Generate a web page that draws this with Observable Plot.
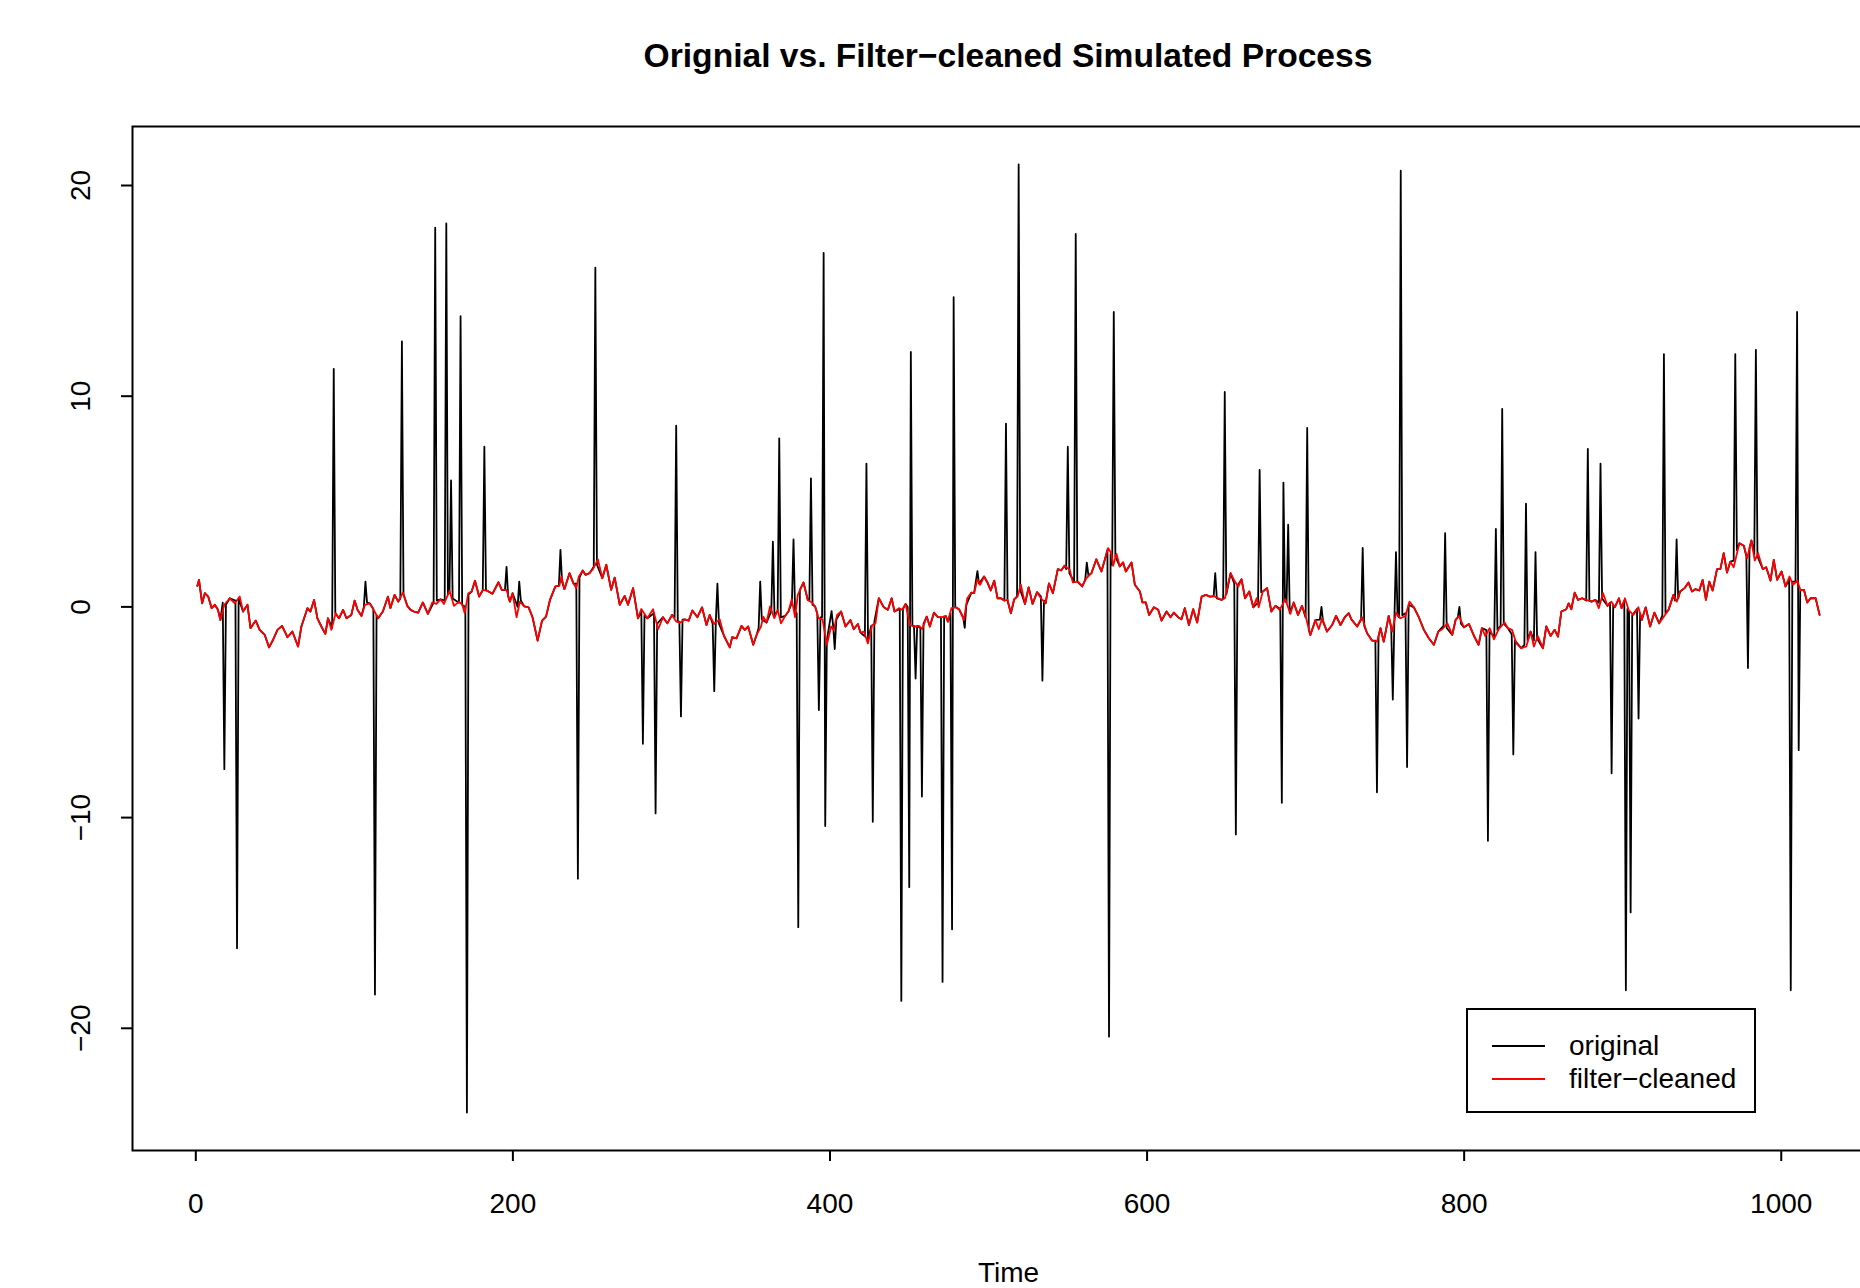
<!DOCTYPE html>
<html>
<head>
<meta charset="utf-8">
<script src="https://cdn.jsdelivr.net/npm/d3@7"></script>
<script src="https://cdn.jsdelivr.net/npm/@observablehq/plot@0.6"></script>
<style>
  html, body { margin: 0; padding: 0; background: #fff; overflow: hidden; }
  #wrap { position: relative; width: 1860px; height: 1288px; overflow: hidden; font-family: "Liberation Sans", Arial, Helvetica, sans-serif; }
  #title { position: absolute; left: 0; top: 0; width: 2016px; height: 90px; text-align: center; font-weight: bold; font-size: 33.6px; line-height: 112px; color: #000; }
  #chart { position: absolute; left: 0; top: 90px; width: 1900px; }
  #chart svg { max-width: none !important; }
  #legend { position: absolute; left: 1466px; top: 1008px; width: 286px; height: 101px; border: 2px solid #000; background: #fff; }
  .row { position: absolute; left: 0; height: 30px; width: 286px; }
  .row .ln { position: absolute; left: 24px; top: 14px; width: 53px; height: 0; border-top: 2px solid; }
  .row .tx { position: absolute; left: 101px; top: 0; font-size: 28px; line-height: 30px; color: #000; white-space: nowrap; }
</style>
</head>
<body>
<div id="wrap">
  <div id="title">Orignial vs. Filter−cleaned Simulated Process</div>
  <div id="chart"></div>
  <div id="legend">
    <div class="row" style="top:21px"><div class="ln" style="border-color:#000"></div><div class="tx">original</div></div>
    <div class="row" style="top:54px"><div class="ln" style="border-color:#ff0000"></div><div class="tx">filter−cleaned</div></div>
  </div>
</div>
<script>
// Filter-cleaned series (time, value)
const cleaned = [
[1,1.0],[2,1.28],[4,0.17],[5.7,0.65],[7.8,0.49],[10,-0.06],[12,0.1],[14,-0.14],[15.5,-0.62],[18,0.1],[21.4,0.41],[24.6,0.17],[27.7,0.49],[29.8,-0.22],[32.6,0.1],[34.5,-1.01],[37.8,-0.65],[40.3,-1.09],[43.5,-1.33],[46.2,-1.92],[48.7,-1.57],[51.5,-1.09],[54.4,-0.9],[57.8,-1.44],[60.9,-1.17],[64.5,-1.88],[66.6,-0.93],[70.4,-0.06],[72.3,-0.22],[74.6,0.33],[76.7,-0.54],[79.2,-0.93],[81.7,-1.28],[83.4,-0.54],[85.5,-1.09],[88.2,-0.3],[90.3,-0.54],[92.9,-0.14],[95,-0.54],[98.1,-0.38],[100.2,0.3],[102,-0.14],[104.5,-0.43],[106.7,0.1],[109.7,0.17],[112.2,-0.14],[115,-0.54],[118,-0.22],[121.2,0.49],[122.7,-0.06],[125.4,0.57],
[127.7,0.25],[130.6,0.68],[133.4,0.05],[135.5,-0.14],[137.6,-0.22],[140.3,-0.27],[143.2,0.21],[146.4,-0.33],[149.1,0.21],[151.7,0.14],[154.4,0.36],[156.5,0.14],[160.1,0.76],[162.8,0.05],[166,0.25],[168.1,0.1],[169.6,-0.3],[171.9,0.65],[174,0.73],[176.1,1.24],[178.7,0.49],[181.2,0.81],[183.9,0.76],[187.1,0.62],[190.9,1.17],[193,0.81],[196,0.81],[198.1,0.25],[199.8,0.65],[202.3,-0.49],[204.4,0.25],[207.2,0.02],[209.9,-0.02],[212.4,-0.49],[215.6,-1.6],[218.4,-0.65],[220.9,-0.46],[223.4,0.33],[226.8,0.97],[229.3,1.0],[230.6,1.44],[232.5,0.84],[235.7,1.6],[238.2,1.12],[239.9,0.89],[241.6,1.44],[244.1,1.73],[245.8,1.52],[248.3,1.6],[250.5,1.79],[253.6,2.26],[256.4,1.36],[258.9,2.0],[262,0.81],
[264.2,1.39],[267.4,0.1],[270.5,0.52],[272.6,0.1],[275.8,0.89],[278.9,-0.54],[281,-0.1],[284.8,-0.54],[288.4,-0.11],[291.6,-1.06],[294.7,-0.49],[297.4,-0.78],[300.4,-0.38],[303.1,-0.7],[305.8,-0.74],[308.4,-0.59],[310.9,-0.65],[313.2,-0.17],[316.4,-0.49],[319.3,-0.02],[322.1,-0.86],[324.1,-0.38],[326.9,-0.81],[330.4,-0.59],[333.2,-1.38],[336.8,-1.92],[338.3,-1.44],[341,-1.49],[344.2,-0.9],[346.3,-1.09],[348.4,-0.93],[351.6,-1.8],[353.7,-1.33],[356.5,-0.93],[357.9,-0.46],[360,-0.74],[362.2,0.02],[364.9,-0.54],[367,-0.14],[369.1,-0.78],[371.7,-0.43],[373.8,-0.22],[375.9,0.36],[378,-0.49],[379.7,0.57],[383.3,1.16],[386,0.33],[388.6,0.21],[390.6,0.02],[392.8,-0.54],[395.3,-0.59],[398,-1.8],
[400.7,-0.93],[402.4,-1.09],[404.5,-0.38],[407,-0.22],[409.8,-0.93],[412.9,-0.62],[415,-1.06],[417.6,-0.81],[419.2,-1.22],[421.4,-1.17],[423.9,-1.73],[426.6,-0.86],[428.7,-0.78],[430.8,0.41],[434,-0.02],[436.5,-0.14],[438.9,0.41],[440.7,-0.22],[443.5,-0.06],[445.6,-0.14],[447.7,0.14],[450.4,-0.86],[453.4,-0.93],[456.1,-0.9],[458.2,-1.06],[461,-0.46],[463,-0.93],[465.6,-0.27],[468.1,-0.49],[470.8,-0.49],[473,-0.43],[474.4,-0.7],[476.6,-0.06],[479.3,-0.02],[481.4,-0.11],[484.5,-0.62],[486.6,0.41],[489.2,0.68],[490.9,0.65],[493,1.31],[494.7,1.05],[497.2,1.44],[499.3,1.16],[501.4,0.78],[503.6,1.25],[505.7,0.41],[507.8,0.41],[509.9,0.3],[512,0.33],[514.1,-0.3],[516.2,0.36],[518.3,0.49],[520.4,1.05],[523,0.14],[525.3,0.93],[527.8,0.14],[530.6,0.7],[533.1,0.41],
[536,0.17],[538.1,1.12],[540.6,0.65],[543.7,1.79],[545.8,1.73],[547.9,1.95],[551.2,1.76],[553.2,1.16],[556.4,1.2],[559.1,0.97],[561.7,1.36],[564.9,1.6],[568,2.26],[571.2,1.68],[573.3,2.23],[575.4,2.79],[577.5,2.55],[578.6,1.95],[580.7,2.52],[582.8,1.92],[584.9,2.11],[586.6,1.68],[590.2,2.11],[592.3,1.05],[595.5,0.73],[597.1,0.21],[599.2,0.21],[601.3,-0.38],[604.3,-0.02],[607,-0.14],[609.1,-0.65],[612.3,-0.22],[614.8,-0.49],[616.9,-0.27],[619.6,-0.49],[621.7,-0.59],[623.8,-0.06],[626.4,-0.86],[629.1,-0.11],[631.6,-0.74],[634.4,0.49],[637.1,0.57],[639.6,0.49],[641.8,0.52],[644.9,0.41],[647,0.33],[649.1,0.41],[652.7,1.6],[655.4,1.2],[657.6,0.97],[659.6,1.31],[661.8,0.41],[664.5,0.73],[667,-0.02],[669.1,0.41],
[670.4,-0.02],[673,0.73],[675.7,0.89],[678.4,-0.22],[681,0.05],[683.6,-0.14],[687.2,0.36],[690.4,-0.33],[692.5,0.21],[695.2,-0.38],[697.7,0.05],[699.8,-0.38],[703,-1.33],[706.2,-0.62],[708.3,-1.06],[710.4,-0.54],[713.5,-1.17],[716.7,-0.86],[719.2,-0.43],[722,-0.86],[724.7,-0.49],[727.2,-0.3],[728.9,-0.59],[732.5,-0.93],[735.6,-0.49],[738.8,-1.25],[741.9,-1.6],[745.1,-1.65],[747.2,-1.01],[749.3,-1.65],[752.4,-0.43],[754.6,-1.17],[757.1,-0.27],[759.8,-0.54],[763,-0.43],[765.5,0.25],[768.3,-0.02],[771.4,-0.49],[774.6,-1.09],[777.7,-1.49],[780.9,-1.8],[783.7,-1.17],[786.2,-1.06],[789.4,-0.78],[792.5,-1.33],[794.6,-0.62],[796.7,-0.43],[799.9,-0.97],[803,-0.81],[806.2,-1.38],
[809.1,-1.8],[811.2,-1.01],[813.3,-1.38],[816.1,-1.01],[818.8,-1.54],[821.8,-1.06],[825.5,-0.74],[827.6,-1.01],[830.2,-1.09],[832.9,-1.73],[836,-1.96],[839.2,-1.88],[841.9,-1.17],[844,-1.88],[846.5,-1.38],[849.7,-1.96],[851.8,-0.93],[854.5,-1.38],[857.1,-1.09],[859.2,-1.41],[861.3,-0.22],[864.4,-0.11],[865.9,0.17],[867.6,-0.11],[869.7,0.68],[871.8,0.33],[874.4,0.41],[877.1,0.33],[880.3,0.25],[882.8,0.33],[884.9,-0.06],[887.6,0.65],[890.4,0.05],[892.9,0.25],[895,-0.02],[897.6,0.41],[899.3,-0.06],[901.4,0.41],[903.9,-0.17],[906.7,-0.38],[909.9,-0.02],[912,-0.62],[914.5,-0.02],[917.3,-0.93],[920,-0.27],[923,-0.78],[925.7,-0.49],[928.9,-0.14],[932,0.57],[934.1,0.25],[936.2,0.73],[939,0.89],[941.5,1.16],
[943.7,0.73],[945.8,0.84],[948.3,0.78],[950.4,1.28],[952.5,0.33],[954.6,1.2],[956.7,0.78],[959.5,1.79],[961.6,1.79],[963.7,2.55],[965.8,1.63],[967.9,2.15],[970,1.88],[972.1,2.55],[973.6,3.02],[976.4,2.9],[978.5,2.31],[981.2,3.15],[983.3,2.2],[985.4,2.55],[988.4,1.79],[990.5,1.88],[993.2,1.25],[995.3,2.23],[997.4,1.28],[1000.2,1.68],[1002.7,0.97],[1005.2,1.44],[1007.4,1.05],[1010.1,1.25],[1012.2,0.78],[1014.3,0.81],[1016.4,0.21],[1018.5,0.41],[1021.7,0.41],[1024.2,-0.38]
];

// Original series: outlier spikes with their neighbouring points (time, value)
const originalSpikes = [
[17,0.2],[18,-7.7],[19,0.1],
[25,0.3],[26,-16.2],[27,0.4],
[86,-1.0],[87,11.3],[88,-0.3],
[106,0.0],[107,1.2],[108,0.2],
[112,-0.1],[113,-18.4],[114,-0.4],
[129,0.4],[130,12.6],[131,0.6],
[150,0.2],[151,18.0],[152,0.3],
[157,0.3],[158,18.2],[159,0.6],
[160,0.7],[161,6.0],[162,0.4],
[166,0.2],[167,13.8],[168,0.1],
[170,0.0],[171,-24.0],[172,0.6],
[181,0.8],[182,7.6],[183,0.8],
[195,0.8],[196,1.9],[197,0.5],
[203,0.0],[204,1.2],[205,0.3],
[229,1.0],[230,2.7],[231,1.2],
[240,1.1],[241,-12.9],[242,1.4],
[251,1.9],[252,16.1],[253,2.0],
[281,-0.2],[282,-6.5],[283,-0.4],
[289,-0.3],[290,-9.8],[291,-0.8],
[302,-0.5],[303,8.6],[304,-0.7],
[305,-0.7],[306,-5.2],[307,-0.6],
[326,-0.8],[327,-4.0],[328,-0.7],[329,1.1],[330,-0.8],
[355,-1.0],[356,1.2],[357,-0.6],
[363,-0.2],[364,3.1],[365,-0.4],
[367,-0.2],[368,8.0],[369,-0.5],
[376,0.2],[377,3.2],[378,-0.2],
[379,-0.3],[380,-15.2],[381,0.8],
[387,0.3],[388,6.1],[389,0.1],
[392,-0.3],[393,-4.9],[394,-0.5],
[395,-0.5],[396,16.8],[397,-10.4],[398,-1.6],
[401,-0.2],[402,-0.9],[403,-2.0],[404,-0.6],
[422,-1.4],[423,6.8],[424,-1.6],
[426,-0.9],[427,-10.2],[428,-0.7],
[444,-0.1],[445,-18.7],[446,-0.1],
[449,0.0],[450,-13.3],[451,12.1],[452,-0.9],
[453,-0.9],[454,-3.4],[455,-0.9],
[457,-1.0],[458,-9.0],[459,-0.8],
[470,-0.5],[471,-17.8],[472,-0.5],
[476,-0.3],[477,-15.3],[478,14.7],[479,0.0],
[484,-0.5],[485,-1.0],[486,0.1],
[492,1.2],[493,1.7],[494,1.1],
[510,0.3],[511,8.7],[512,0.3],
[518,0.5],[519,21.0],[520,0.8],
[533,0.5],[534,-3.5],[535,0.3],
[549,1.8],[550,7.6],[551,1.6],
[554,1.2],[555,17.7],[556,1.2],
[561,1.3],[562,2.1],[563,1.5],
[575,2.7],[576,-20.4],[577,2.5],[578,2.0],[579,14.0],[580,2.4],
[642,0.5],[643,1.6],[644,0.4],
[648,0.4],[649,10.2],[650,0.6],
[655,1.1],[656,-10.8],[657,1.0],
[670,0.2],[671,6.5],[672,0.7],
[684,-0.1],[685,-9.3],[686,5.9],[687,0.3],
[688,0.2],[689,3.9],[690,-0.3],
[700,-0.5],[701,8.5],[702,-1.1],
[709,-0.6],[710,0.0],[711,-0.7],
[735,-0.6],[736,2.8],[737,-0.9],
[744,-1.6],[745,-8.8],[746,-1.4],
[754,-1.0],[755,-4.4],[756,-0.6],[757,2.6],[758,-0.4],[759,-0.5],[760,20.7],[761,-0.4],
[763,-0.3],[764,-7.6],[765,0.1],
[787,-0.9],[788,3.5],[789,-1.0],
[796,-0.5],[797,0.0],[798,-0.8],
[814,-1.1],[815,-11.1],[816,-1.2],
[819,-1.4],[820,3.7],[821,-1.1],[823,-0.9],[824,9.4],[825,-0.8],
[830,-1.3],[831,-7.0],[832,-1.6],
[838,-1.8],[839,4.9],[840,-1.6],
[844,-1.6],[845,2.6],[846,-1.5],
[877,0.3],[878,7.5],[879,0.3],
[885,0.2],[886,6.8],[887,0.4],
[892,0.2],[893,-7.9],[894,0.1],
[901,0.3],[902,-18.2],[903,-0.1],[904,-0.2],[905,-14.5],[906,-0.4],
[909,-0.1],[910,-5.3],[911,-0.3],
[925,-0.4],[926,12.0],[927,-0.3],
[933,0.3],[934,3.2],[935,0.4],
[970,2.2],[971,12.0],[972,2.7],
[978,2.4],[979,-2.9],[980,2.8],
[983,2.5],[984,12.2],[985,2.4],
[1005,1.3],[1006,-18.2],[1007,1.2],
[1009,1.2],[1010,14.0],[1011,-6.8],[1012,0.8]
];

const xTicks = [0, 200, 400, 600, 800, 1000];
const yTicks = [-20, -10, 0, 10, 20];
const xLabel = "Time";

// Original = cleaned baseline where no spike is present, plus the spikes
const nearSpike = t => originalSpikes.some(p => Math.abs(p[0] - t) < 1.0);
const original = cleaned.filter(p => !nearSpike(p[0])).concat(originalSpikes).sort((a, b) => a[0] - b[0]);

// R-style 4% axis padding
const pad = (lo, hi) => { const r = hi - lo; return [lo - 0.04 * r, hi + 0.04 * r]; };
const allT = original.map(d => d[0]);
const allV = original.map(d => d[1]);
const xDomain = pad(d3.min(allT), d3.max(allT));
const yDomain = pad(d3.min(allV), d3.max(allV));

const chart = Plot.plot({
  width: 1900,
  height: 1198,
  marginLeft: 132,
  marginRight: 16,
  marginTop: 36,
  marginBottom: 138,
  x: { domain: xDomain },
  y: { domain: yDomain },
  style: { fontFamily: "'Liberation Sans', Arial, Helvetica, sans-serif", fontSize: "28px", background: "#fff", color: "#000", maxWidth: "none" },
  marks: [
    Plot.line(original, { x: d => d[0], y: d => d[1], stroke: "#000", strokeWidth: 1.8 }),
    Plot.line(cleaned, { x: d => d[0], y: d => d[1], stroke: "#ff0000", strokeWidth: 1.8 }),
    Plot.frame({ stroke: "#000", strokeWidth: 2 }),
    Plot.axisX({ ticks: xTicks, tickSize: 11, strokeWidth: 2, tickFormat: () => "", label: null }),
    Plot.axisY({ ticks: yTicks, tickSize: 11, strokeWidth: 2, tickFormat: () => "", label: null }),
    Plot.text(xTicks, { x: d => d, frameAnchor: "bottom", dy: 54, lineAnchor: "middle", text: d => String(d), fontSize: 28, fill: "#000" }),
    Plot.text(yTicks, { y: d => d, frameAnchor: "left", dx: -51, rotate: -90, textAnchor: "middle", lineAnchor: "middle", text: d => String(d).replace("-", "−"), fontSize: 28, fill: "#000" }),
    Plot.text([xLabel], { frameAnchor: "bottom", dy: 123, lineAnchor: "middle", text: d => d, fontSize: 28, fill: "#000" })
  ]
});
chart.style.maxWidth = "none";
chart.style.width = "1900px";
chart.style.height = "1198px";
document.getElementById("chart").appendChild(chart);
</script>
</body>
</html>
